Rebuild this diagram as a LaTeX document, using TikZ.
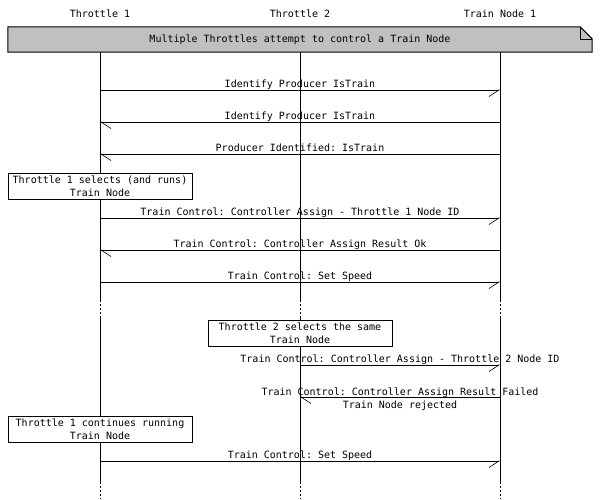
\documentclass[tikz,border=0pt]{standalone}
\usepackage{fontspec}
\setmonofont{DejaVu Sans Mono}
\usetikzlibrary{arrows.meta,positioning,backgrounds}
\definecolor{hdrgray}{RGB}{192,192,192}

\begin{document}
\begin{tikzpicture}[
    x=1pt, y=-1pt,
    font=\fontsize{10}{13}\selectfont\ttfamily,
    entity/.style={anchor=base, inner sep=0pt},
    hdrtext/.style={minimum width=584pt, minimum height=25pt, inner sep=0pt},
    hdrbox/.style={draw=black, fill=hdrgray, line width=1pt},
    life/.style={line width=1pt},
    lifedots/.style={line width=1pt, dash pattern=on 2pt off 2pt},
    msgr/.style={line width=1pt,
      -{Straight Barb[harpoon, swap, length=10pt, width=13pt, line width=0.6pt]}},
    msgl/.style={line width=1pt,
      -{Straight Barb[harpoon, length=10pt, width=13pt, line width=0.6pt]}},
    lbl/.style={anchor=base, yshift=3pt, inner sep=0pt},
    notebox/.style={draw, line width=1pt, fill=white, minimum width=184pt,
      minimum height=26pt, align=center, inner sep=0pt},
  ]
    \useasboundingbox (0,0) rectangle (600,499);

    % ===== Entities =====
    \node[entity] (t1) at (100,17.5) {Throttle 1};
    \node[entity] (t2) at (300,17.5) {Throttle 2};
    \node[entity] (tn) at (500,17.5) {Train Node 1};

    % ===== Header note =====
    \node[hdrtext] (hdr) at (300,39.5) {Multiple Throttles attempt to control a Train Node};
    \begin{pgfonlayer}{background}
      \filldraw[hdrbox] (hdr.north west) -- ([xshift=-12pt]hdr.north east)
        -- ([yshift=-12pt]hdr.north east) -- (hdr.south east) -- (hdr.south west) -- cycle;
      \draw[line width=0.6pt] ([xshift=-12pt]hdr.north east) |- ([yshift=-12pt]hdr.north east);
    \end{pgfonlayer}

    % ===== Lifelines =====
    \coordinate (gapa) at (0,300);
    \coordinate (gapb) at (0,318);
    \coordinate (gapc) at (0,482);
    \coordinate (bot) at (0,499);
    \foreach \e in {t1,t2,tn} {
      \draw[life] (\e |- hdr.south) -- (\e |- gapa);
      \draw[lifedots] (\e |- gapa) -- (\e |- gapb);
      \draw[life] (\e |- gapb) -- (\e |- gapc);
      \draw[lifedots] (\e |- gapc) -- (\e |- bot);
    }

    % ===== Message rows =====
    \coordinate (r1) at (0,90);
    \coordinate (r2) at (0,122);
    \coordinate (r3) at (0,154);
    \coordinate (r4) at (0,218);
    \coordinate (r5) at (0,250);
    \coordinate (r6) at (0,282);
    \coordinate (r7) at (0,365);
    \coordinate (r8) at (0,397);
    \coordinate (r9) at (0,461);

    \draw[msgr] (t1 |- r1) -- node[lbl] {Identify Producer IsTrain} (tn |- r1);
    \draw[msgl] (tn |- r2) -- node[lbl] {Identify Producer IsTrain} (t1 |- r2);
    \draw[msgl] (tn |- r3) -- node[lbl] {Producer Identified: IsTrain} (t1 |- r3);

    \node[notebox] (sel1) at (100,186) {Throttle 1 selects (and runs)\\Train Node};

    \draw[msgr] (t1 |- r4) -- node[lbl] {Train Control: Controller Assign - Throttle 1 Node ID} (tn |- r4);
    \draw[msgl] (tn |- r5) -- node[lbl] {Train Control: Controller Assign Result Ok} (t1 |- r5);
    \draw[msgr] (t1 |- r6) -- node[lbl] {Train Control: Set Speed} (tn |- r6);

    \node[notebox] (sel2) at (300,333.5) {Throttle 2 selects the same\\Train Node};

    \draw[msgr] (t2 |- r7) -- node[lbl] {Train Control: Controller Assign - Throttle 2 Node ID} (tn |- r7);
    \draw[msgl] (tn |- r8) -- node[align=center, inner sep=0pt, yshift=-2pt]
      {Train Control: Controller Assign Result Failed\\Train Node rejected} (t2 |- r8);

    \node[notebox] (cont1) at (100,429.5) {Throttle 1 continues running\\Train Node};

    \draw[msgr] (t1 |- r9) -- node[lbl] {Train Control: Set Speed} (tn |- r9);

\end{tikzpicture}
\end{document}
